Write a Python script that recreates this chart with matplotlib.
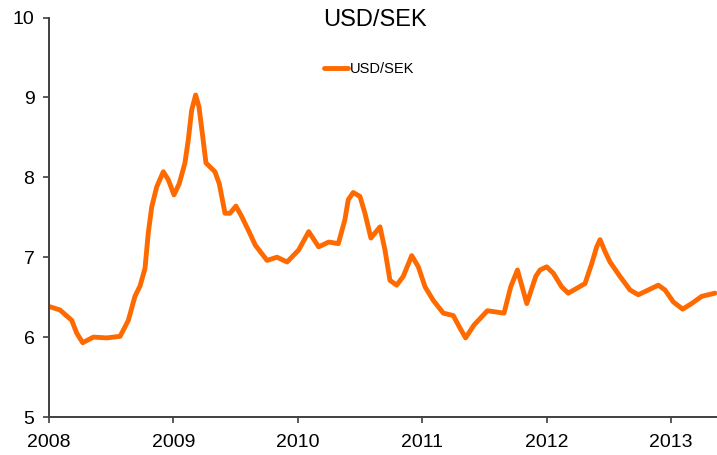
import matplotlib

matplotlib.use("Agg")
import matplotlib.pyplot as plt
import numpy as np

# USD/SEK exchange rate (decimal years)
years = np.array([
    2008.008, 2008.088, 2008.183, 2008.223, 2008.271, 2008.357, 2008.465, 2008.572,
    2008.638, 2008.691, 2008.732, 2008.772, 2008.798, 2008.826, 2008.866, 2008.919,
    2008.959, 2009.005, 2009.047, 2009.093, 2009.120, 2009.147, 2009.179, 2009.206,
    2009.236, 2009.262, 2009.334, 2009.369, 2009.415, 2009.455, 2009.503, 2009.549,
    2009.602, 2009.659, 2009.753, 2009.833, 2009.914, 2010.007, 2010.088, 2010.168,
    2010.249, 2010.326, 2010.379, 2010.406, 2010.446, 2010.500, 2010.540, 2010.588,
    2010.661, 2010.701, 2010.741, 2010.795, 2010.848, 2010.916, 2010.969, 2011.023,
    2011.089, 2011.170, 2011.250, 2011.298, 2011.349, 2011.416, 2011.524, 2011.658,
    2011.712, 2011.766, 2011.841, 2011.913, 2011.947, 2012.001, 2012.054, 2012.121,
    2012.174, 2012.242, 2012.309, 2012.363, 2012.403, 2012.430, 2012.470, 2012.510,
    2012.590, 2012.671, 2012.737, 2012.818, 2012.898, 2012.952, 2013.019, 2013.094,
    2013.166, 2013.247, 2013.354,
])
usd_sek = np.array([
    6.38, 6.34, 6.21, 6.05, 5.93, 6.00, 5.99, 6.01,
    6.21, 6.51, 6.64, 6.86, 7.30, 7.63, 7.88, 8.07,
    7.97, 7.78, 7.92, 8.18, 8.47, 8.84, 9.03, 8.88,
    8.51, 8.18, 8.07, 7.92, 7.55, 7.55, 7.64, 7.51,
    7.34, 7.15, 6.96, 7.00, 6.94, 7.09, 7.32, 7.13,
    7.19, 7.17, 7.47, 7.72, 7.81, 7.76, 7.55, 7.24,
    7.38, 7.09, 6.71, 6.65, 6.76, 7.02, 6.88, 6.63,
    6.46, 6.30, 6.27, 6.13, 5.99, 6.15, 6.33, 6.30,
    6.63, 6.84, 6.42, 6.76, 6.84, 6.88, 6.80, 6.63,
    6.55, 6.61, 6.67, 6.92, 7.13, 7.22, 7.07, 6.94,
    6.76, 6.59, 6.53, 6.59, 6.65, 6.59, 6.44, 6.35,
    6.42, 6.51, 6.55,
])
x_ticks = [2008, 2009, 2010, 2011, 2012, 2013]
y_ticks = [5, 6, 7, 8, 9, 10]

plt.rcParams["font.family"] = ["Liberation Sans", "DejaVu Sans"]

fig = plt.figure(figsize=(7.17, 4.55), dpi=100)
ax = fig.add_axes([0.0683, 0.0835, 0.9317, 0.878])

line, = ax.plot(years, usd_sek, color="#ff6a00", linewidth=3.5,
                solid_joinstyle="round", solid_capstyle="round", label="USD/SEK")

ax.set_xlim(2008, 2013.37)
ax.set_ylim(5, 10)
ax.set_xticks(x_ticks)
ax.set_yticks(y_ticks)
ax.tick_params(axis="both", labelsize=14, length=4.5, width=1.2, color="#404040")
ax.tick_params(axis="y", pad=6)
ax.tick_params(axis="x", pad=8)
for side in ["top", "right"]:
    ax.spines[side].set_visible(False)
for side in ["left", "bottom"]:
    ax.spines[side].set_color("#404040")
    ax.spines[side].set_linewidth(1.4)

fig.text(0.523, 1 - 20 / 455, "USD/SEK", ha="center", va="center", fontsize=17)
ax.legend(handles=[line], loc="center", bbox_to_anchor=(0.479, 0.872),
          frameon=False, fontsize=10.5, handlelength=1.7, handletextpad=0.1,
          borderaxespad=0)

fig.savefig("out.png", dpi=100)
plt.close(fig)
